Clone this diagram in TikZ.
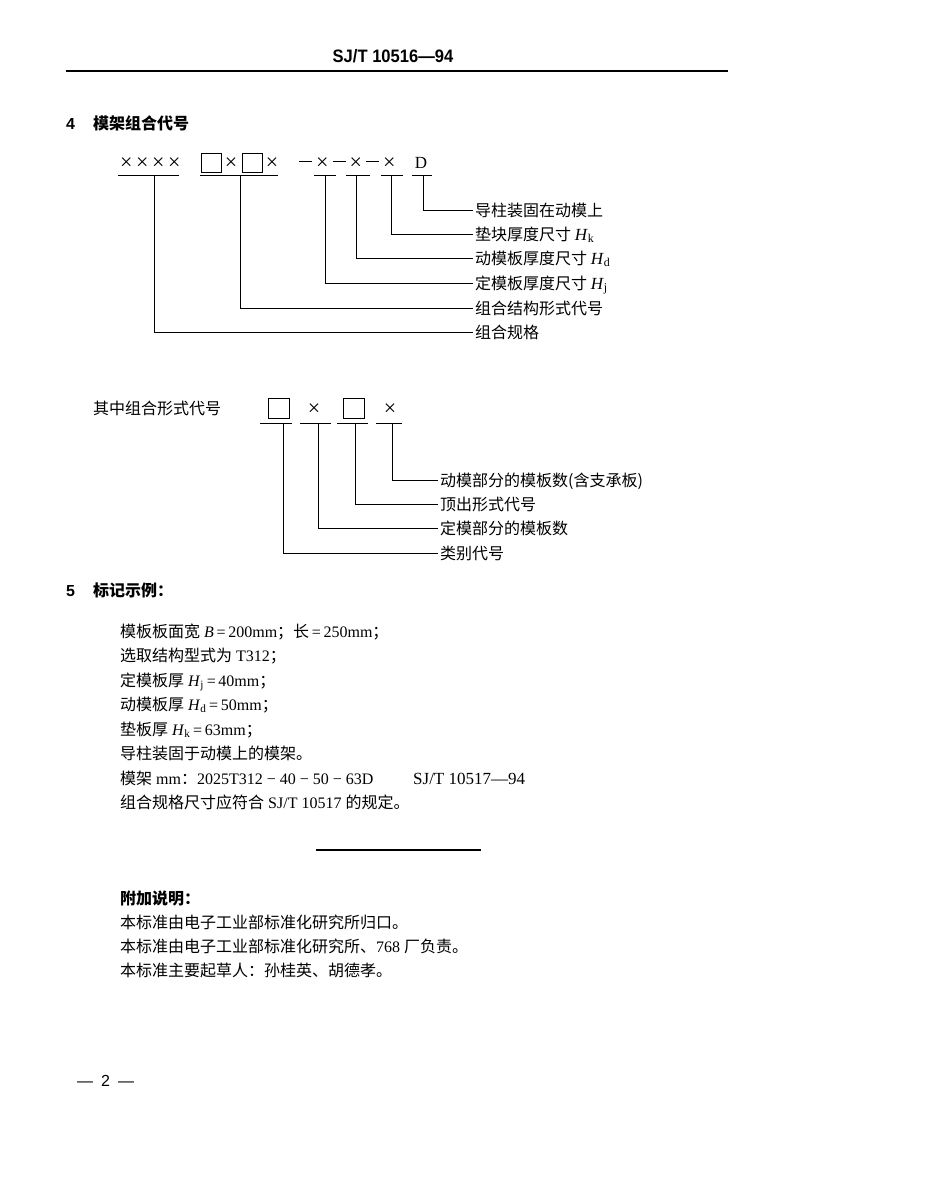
\documentclass[tikz,border=0pt]{standalone}
\usepackage{fontspec}
\setmainfont{Liberation Serif}
\setsansfont{Liberation Sans}
\newfontfamily\cjk{Noto Sans CJK SC}
\newcommand\zh[1]{{\cjk #1}}
\newcommand\HH[1]{\textit{H}\textsubscript{#1}}
\newcommand\shortdash{\rule[7pt]{13pt}{0.8pt}}
\begin{document}
\begin{tikzpicture}[x=1pt,y=-1pt,
  txt/.style={anchor=base west,inner sep=0pt,font=\fontsize{16}{16}\selectfont},
  mul/.style={anchor=base west,inner sep=0pt,font=\fontsize{22}{22}\selectfont},
  lbl/.style={anchor=west,inner xsep=0pt,inner ysep=0pt,text height=14pt,text depth=2pt,font=\fontsize{16}{16}\selectfont\cjk},
  ln/.style={line width=0.8pt},
  bx/.style={line width=0.8pt},
  head/.style={anchor=base west,inner sep=0pt,font=\fontsize{16}{16}\selectfont\bfseries}]
\useasboundingbox (0,0) rectangle (950,1195);
% header
\node[anchor=base,inner sep=0pt,font=\fontsize{18}{18}\selectfont\sffamily\bfseries] (hdr) at (393,62) {\scalebox{0.92}[1]{SJ/T 10516—94}};
\draw[line width=1.6pt] (66,71) -- (728,71);
% section 4
\node[head,font=\fontsize{16}{16}\selectfont\sffamily\bfseries] (s4n) at (66,129) {4};
\node[head,font=\fontsize{16}{16}\selectfont\cjk\bfseries] (s4t) at (93,129) {模架组合代号};
% diagram 1 top row
\node[mul] (r1) at (120,169) {×\hspace{3.6pt}×\hspace{3.6pt}×\hspace{3.6pt}×};
\draw[bx] (201,153) rectangle (221,172);
\node[mul,anchor=base] (r2) at (231,169) {×};
\draw[bx] (242,153) rectangle (262,172);
\node[mul,anchor=base] (r3) at (272,169) {×};
\node[mul] (r4) at (299,169) {\shortdash\hspace{4pt}×\hspace{4pt}\shortdash\hspace{4pt}×\hspace{4pt}\shortdash\hspace{4pt}×};
\node[txt,anchor=base,font=\fontsize{17}{17}\selectfont] (r5) at (421,168) {D};
% underlines
\draw[ln] (118,175) -- (179,175);
\draw[ln] (200,175) -- (278,175);
\draw[ln] (314,175) -- (336,175);
\draw[ln] (346,175) -- (370,175);
\draw[ln] (381,175) -- (403,175);
\draw[ln] (412,175) -- (432,175);
\coordinate (u1) at (154,175);
\coordinate (u2) at (240,175);
\coordinate (u3) at (325,175);
\coordinate (u4) at (356,175);
\coordinate (u5) at (391,175);
\coordinate (u6) at (423,175);
% labels
\node[lbl] (l1) at (475,210) {导柱装固在动模上};
\node[lbl] (l2) at (475,234) {垫块厚度尺寸 {\rmfamily\fontsize{17}{17}\selectfont\HH{k}}};
\node[lbl] (l3) at (475,258) {动模板厚度尺寸 {\rmfamily\fontsize{17}{17}\selectfont\HH{d}}};
\node[lbl] (l4) at (475,283) {定模板厚度尺寸 {\rmfamily\fontsize{17}{17}\selectfont\HH{j}}};
\node[lbl] (l5) at (475,308) {组合结构形式代号};
\node[lbl] (l6) at (475,332) {组合规格};
\draw[ln] (u6) |- ([xshift=-2pt]l1.west);
\draw[ln] (u5) |- ([xshift=-2pt]l2.west);
\draw[ln] (u4) |- ([xshift=-2pt]l3.west);
\draw[ln] (u3) |- ([xshift=-2pt]l4.west);
\draw[ln] (u2) |- ([xshift=-2pt]l5.west);
\draw[ln] (u1) |- ([xshift=-2pt]l6.west);
% diagram 2
\node[txt,font=\fontsize{16}{16}\selectfont\cjk] (q0) at (93,414) {其中组合形式代号};
\draw[bx] (268,398) rectangle (289,418);
\node[mul,anchor=base] (q1) at (314,415) {×};
\draw[bx] (343,398) rectangle (364,418);
\node[mul,anchor=base] (q2) at (390,415) {×};
\draw[ln] (260,423) -- (292,423);
\draw[ln] (300,423) -- (331,423);
\draw[ln] (337,423) -- (368,423);
\draw[ln] (376,423) -- (402,423);
\coordinate (v1) at (283,423);
\coordinate (v2) at (318,423);
\coordinate (v3) at (355,423);
\coordinate (v4) at (392,423);
\node[lbl] (m1) at (440,480) {动模部分的模板数(含支承板)};
\node[lbl] (m2) at (440,504) {顶出形式代号};
\node[lbl] (m3) at (440,528) {定模部分的模板数};
\node[lbl] (m4) at (440,553) {类别代号};
\draw[ln] (v4) |- ([xshift=-2pt]m1.west);
\draw[ln] (v3) |- ([xshift=-2pt]m2.west);
\draw[ln] (v2) |- ([xshift=-2pt]m3.west);
\draw[ln] (v1) |- ([xshift=-2pt]m4.west);
% section 5
\node[head,font=\fontsize{16}{16}\selectfont\sffamily\bfseries] (s5n) at (66,596) {5};
\node[head,font=\fontsize{16}{16}\selectfont\cjk\bfseries] (s5t) at (93,596) {标记示例：};
\node[txt] (e1) at (120,637) {\zh{模板板面宽} \textit{B}\,=\,200mm\zh{；长}\,=\,250mm\zh{；}};
\node[txt] (e2) at (120,661) {\zh{选取结构型式为} T312\zh{；}};
\node[txt] (e3) at (120,686) {\zh{定模板厚} \HH{j}\,=\,40mm\zh{；}};
\node[txt] (e4) at (120,710) {\zh{动模板厚} \HH{d}\,=\,50mm\zh{；}};
\node[txt] (e5) at (120,735) {\zh{垫板厚} \HH{k}\,=\,63mm\zh{；}};
\node[txt] (e6) at (120,759) {\zh{导柱装固于动模上的模架。}};
\node[txt] (e7) at (120,784) {\zh{模架} mm\zh{：}2025T312 − 40 − 50 − 63D};
\node[txt,font=\fontsize{17}{17}\selectfont] (e7b) at (413,784) {SJ/T 10517—94};
\node[txt] (e8) at (120,808) {\zh{组合规格尺寸应符合} SJ/T 10517 \zh{的规定。}};
\draw[line width=1.2pt] (316,850) -- (481,850);
\node[head,font=\fontsize{16}{16}\selectfont\cjk\bfseries] (a0) at (120,904) {附加说明：};
\node[txt,font=\fontsize{16}{16}\selectfont\cjk] (a1) at (120,928) {本标准由电子工业部标准化研究所归口。};
\node[txt] (a2) at (120,952) {\zh{本标准由电子工业部标准化研究所、}768 \zh{厂负责。}};
\node[txt,font=\fontsize{16}{16}\selectfont\cjk] (a3) at (120,976) {本标准主要起草人：孙桂英、胡德孝。};
\node[txt,font=\fontsize{16}{16}\selectfont\sffamily] (pg) at (77,1086) {—\hspace{8pt}2\hspace{8pt}—};
\end{tikzpicture}
\end{document}
